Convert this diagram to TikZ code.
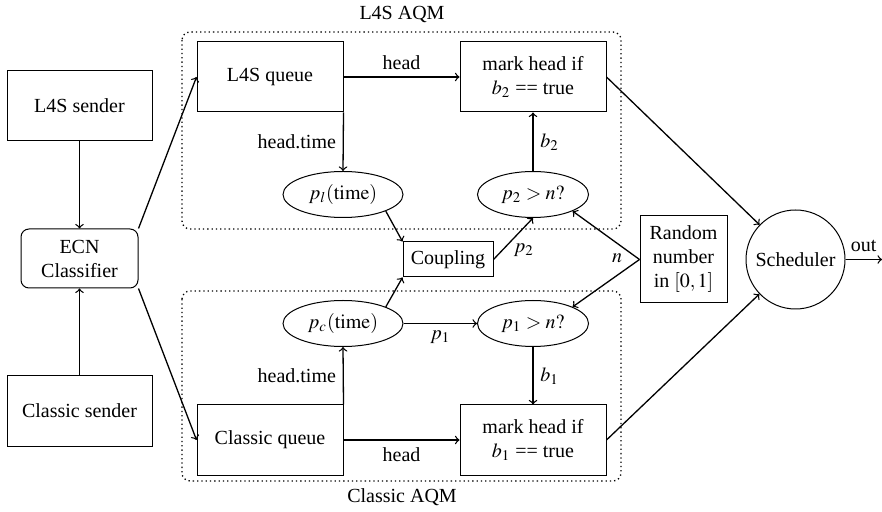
\documentclass[tikz,border=0pt]{standalone}
\usepackage{mathptmx}
\usepackage{fontspec}
\setmainfont{Liberation Serif}
\usetikzlibrary{shapes.geometric}

\tikzset{
  box/.style={draw, line width=0.5pt, minimum width=73pt, minimum height=35pt,
              align=center, inner sep=2pt},
  oval/.style={draw, ellipse, line width=0.5pt, inner sep=0pt, minimum height=23pt},
  link/.style={->, line width=0.65pt},
  aqm/.style={line width=0.65pt, dash pattern=on 0.65pt off 1.5pt, rounded corners=4pt},
}

\begin{document}
\begin{tikzpicture}[x=0.5pt, y=-0.5pt, >=to]
\useasboundingbox (0,0) rectangle (882,512);

% the two AQM groups
\draw[aqm] (182,32) rectangle (621,229);
\draw[aqm] (182,291) rectangle (621,481);
\node (l4stitle) at (402,15) {L4S AQM};
\node (cltitle) at (402,497) {Classic AQM};

% senders and classifier
\node[box, minimum width=72.5pt] (l4ssend) at (79.5,106) {L4S sender};
\node[box, minimum width=72.5pt] (clsend) at (79.5,411) {Classic sender};
\node[box, rounded corners=4pt, minimum width=58.5pt, minimum height=29.5pt] (ecn) at (79.5,258.5) {ECN\\Classifier};

% queues and marking stages
\node[box] (l4sq) at (270,77) {L4S queue};
\node[box] (l4smark) at (533,77) {mark head if\\$b_2$ == true};
\node[box] (clq) at (270,440) {Classic queue};
\node[box] (clmark) at (533,440) {mark head if\\$b_1$ == true};

% probability stages
\node[oval, minimum width=60pt] (pl) at (343,194.5) {$p_l(\mathrm{time})$};
\node[oval, minimum width=55.5pt] (p2) at (533,194.5) {$p_2 > n?$};
\node[oval, minimum width=60pt] (pc) at (343,323.5) {$p_c(\mathrm{time})$};
\node[oval, minimum width=55.5pt] (p1) at (533,323.5) {$p_1 > n?$};

\node[box, minimum width=45pt, minimum height=17.5pt] (coup) at (448,259.5) {Coupling};
\node[box, minimum width=43.5pt, minimum height=43.5pt] (rnd) at (683.5,259.5) {Random\\number\\in $[0,1]$};
\node[draw, circle, line width=0.5pt, minimum size=49.5pt, inner sep=0pt] (sched) at (795.5,259.5) {Scheduler};
\coordinate (out) at (882,259.5);

% connectors
\draw[link] (l4ssend) -- (ecn);
\draw[link] (clsend) -- (ecn);
\draw[link] (ecn.north east) -- (l4sq.west);
\draw[link] (ecn.south east) -- (clq.west);

\draw[link] (l4sq.east) -- node[above] (lhead) {head} (l4smark.west);
\draw[link] (l4sq.south east) -- node[left] (lhtime) {head.time} (pl.north);
\draw[link] (pl.south east) -- (coup.north west);
\draw[link] (coup.east) -- node[pos=0.45, below right, inner sep=1pt] (lp2) {$p_2$} (p2.south);
\draw[link] (p2.north) -- node[right] (lb2) {$b_2$} (l4smark.south);

\draw[link] (clq.east) -- node[below] (chead) {head} (clmark.west);
\draw[link] (clq.north east) -- node[left] (chtime) {head.time} (pc.south);
\draw[link] (pc.north east) -- (coup.south west);
\draw[link] (pc.east) -- node[below] (lp1) {$p_1$} (p1.west);
\draw[link] (p1.south) -- node[right] (lb1) {$b_1$} (clmark.north);

\draw[link] (rnd.west) -- (p2.south east);
\draw[link] (rnd.west) -- (p1.north east);
\node (ln) at (617,258) {$n$};

\draw[link] (l4smark.east) -- (sched);
\draw[link] (clmark.east) -- (sched);
\draw[link] (sched.east) -- node[above] (lout) {out} (out);
\end{tikzpicture}
\end{document}
